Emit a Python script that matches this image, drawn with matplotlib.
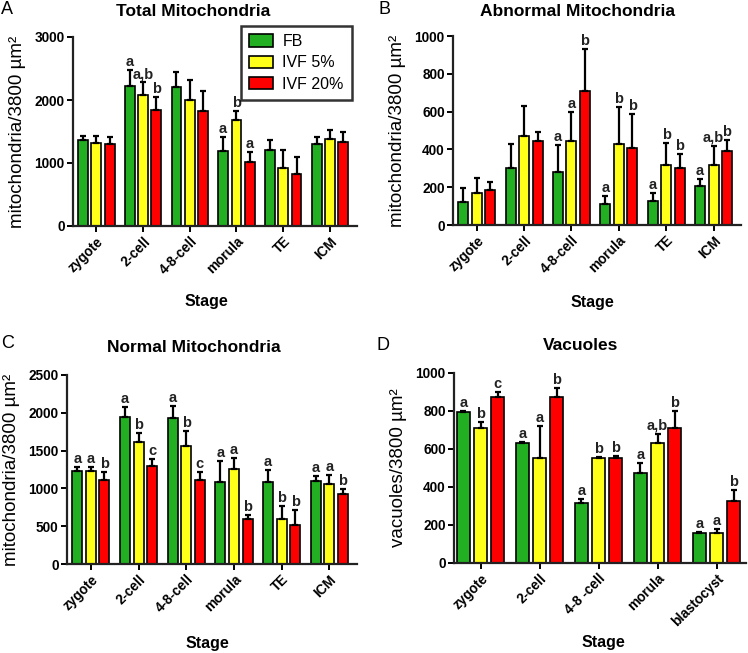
import numpy as np
import matplotlib
matplotlib.use("Agg")
import matplotlib.pyplot as plt
from matplotlib.patches import Patch

plt.rcParams['font.family'] = ['Liberation Sans', 'DejaVu Sans']

series = ["FB", "IVF 5%", "IVF 20%"]
colors = ["#22b022", "#ffff1a", "#ff0000"]

# Panel A: total mitochondria
stages_a = ["zygote", "2-cell", "4-8-cell", "morula", "TE", "ICM"]
total_mean = [[1360, 2230, 2200, 1195, 1205, 1300],
              [1315, 2080, 1995, 1685, 925, 1378],
              [1305, 1835, 1828, 1012, 827, 1330]]
total_err = [[75, 240, 240, 225, 160, 115],
             [115, 200, 325, 135, 275, 148],
             [115, 210, 310, 160, 275, 155]]
total_lbl = [["", "a", "", "a", "", ""],
             ["", "a,b", "", "b", "", ""],
             ["", "b", "", "a", "", ""]]

# Panel B: abnormal mitochondria
abn_mean = [[122, 301, 283, 109, 125, 204],
            [169, 472, 442, 426, 315, 315],
            [187, 444, 711, 410, 299, 394]]
abn_err = [[75, 128, 140, 46, 44, 42],
           [78, 158, 155, 200, 118, 104],
           [38, 47, 220, 176, 78, 57]]
abn_lbl = [["", "", "a", "a", "a", "a"],
           ["", "", "a", "b", "b", "a,b"],
           ["", "", "b", "b", "b", "b"]]

# Panel C: normal mitochondria
norm_mean = [[1232, 1939, 1926, 1082, 1082, 1095],
             [1232, 1608, 1559, 1254, 601, 1064],
             [1109, 1299, 1113, 601, 521, 932]]
norm_err = [[53, 137, 163, 278, 159, 67],
            [53, 128, 195, 146, 163, 115],
            [110, 92, 106, 53, 199, 62]]
norm_lbl = [["a", "a", "a", "a", "a", "a"],
            ["a", "b", "b", "a", "b", "a"],
            ["b", "c", "c", "b", "b", "b"]]

# Panel D: vacuoles
stages_d = ["zygote", "2-cell", "4-8 -cell", "morula", "blastocyst"]
vac_mean = [[793, 632, 316, 474, 158],
            [711, 553, 551, 632, 158],
            [874, 872, 551, 711, 325]]
vac_err = [[5, 5, 21, 52, 5],
           [31, 166, 7, 49, 21],
           [28, 49, 10, 87, 61]]
vac_lbl = [["a", "a", "a", "a", "a"],
           ["b", "a", "b", "a,b", "a"],
           ["c", "b", "b", "b", "b"]]

W, H = 748, 653
fig = plt.figure(figsize=(W / 100, H / 100), dpi=100)


def px_axes(left, right, top, bottom):
    return fig.add_axes([left / W, 1 - bottom / H, (right - left) / W, (bottom - top) / H])


def draw_panel(ax, stages, means, errs, labels, ymax, yticks, ylabel,
               xlim, width, pitch, stage_xy):
    x = np.arange(len(stages))
    for i in range(3):
        xs = x + (i - 1) * pitch
        m = np.array(means[i])
        e = np.array(errs[i])
        ax.bar(xs, m, width=width, color=colors[i], edgecolor="black",
               linewidth=1.2, zorder=2)
        ax.errorbar(xs, m, yerr=[np.zeros_like(e), e], fmt="none",
                    ecolor="black", elinewidth=1.6, capsize=2.5,
                    capthick=1.6, zorder=3)
        for xi, top, lab in zip(xs, m + e, labels[i]):
            if lab:
                ax.text(xi, top + ymax * 0.005, lab, ha="center", va="bottom",
                        fontsize=10.5, fontweight="bold", color="#222222")
    ax.set_xlim(*xlim)
    ax.set_ylim(0, ymax)
    ax.set_yticks(yticks)
    ax.set_xticks(x)
    ax.set_xticklabels(stages, rotation=45, ha="right", rotation_mode="anchor",
                       fontweight="bold", fontsize=9.8)
    for t in ax.get_yticklabels():
        t.set_fontweight("bold")
        t.set_fontsize(9.8)
    ax.spines["top"].set_visible(False)
    ax.spines["right"].set_visible(False)
    for s in ("left", "bottom"):
        ax.spines[s].set_linewidth(1.6)
        ax.spines[s].set_color("#222222")
    ax.tick_params(axis="both", width=1.4, length=4, direction="out", pad=2)
    ax.set_ylabel(ylabel, fontsize=13.5, labelpad=6)
    ax.set_xlabel("Stage", fontsize=11.5, fontweight="bold", va="center")
    ax.xaxis.set_label_coords(*stage_xy)


ax_a = px_axes(73, 357, 37, 226)
draw_panel(ax_a, stages_a, total_mean, total_err, total_lbl, 3000,
           [0, 1000, 2000, 3000], "mitochondria/3800 \u00b5m\u00b2",
           (-0.5, 5.58), 0.21, 0.285, (0.47, -0.40))
ax_b = px_axes(453, 741, 36, 225)
draw_panel(ax_b, stages_a, abn_mean, abn_err, abn_lbl, 1000,
           [0, 200, 400, 600, 800, 1000], "mitochondria/3800 \u00b5m\u00b2",
           (-0.5, 5.58), 0.21, 0.285, (0.485, -0.41))
ax_c = px_axes(67, 357, 375, 564)
draw_panel(ax_c, stages_a, norm_mean, norm_err, norm_lbl, 2500,
           [0, 500, 1000, 1500, 2000, 2500], "mitochondria/3800 \u00b5m\u00b2",
           (-0.5, 5.58), 0.21, 0.285, (0.483, -0.42))
ax_d = px_axes(454, 746, 373, 563)
draw_panel(ax_d, stages_d, vac_mean, vac_err, vac_lbl, 1000,
           [0, 200, 400, 600, 800, 1000], "vacuoles/3800 \u00b5m\u00b2",
           (-0.45, 4.5), 0.22, 0.29, (0.51, -0.42))

handles = [Patch(facecolor=c, edgecolor="black", linewidth=1.2) for c in colors]
leg = ax_a.legend(handles, series, loc="upper right", bbox_to_anchor=(1.01, 1.1),
                  fontsize=11.5, frameon=True, fancybox=False, borderpad=0.5,
                  handlelength=1.5, handleheight=0.8, labelspacing=0.4,
                  handletextpad=0.6)
leg.get_frame().set_edgecolor("black")
leg.get_frame().set_linewidth(1.8)

titles = [("Total Mitochondria", 193, 11), ("Abnormal Mitochondria", 578, 11),
          ("Normal Mitochondria", 194, 347), ("Vacuoles", 581, 346)]
for txt, cx, cy in titles:
    fig.text(cx / W, 1 - cy / H, txt, ha="center", va="center",
             fontsize=12.5, fontweight="bold")

letters = [("A", 1, 10), ("B", 378, 10), ("C", 1, 344), ("D", 377, 345)]
for txt, lx, ly in letters:
    fig.text(lx / W, 1 - ly / H, txt, ha="left", va="center", fontsize=13)

fig.savefig("out.png", dpi=100)
